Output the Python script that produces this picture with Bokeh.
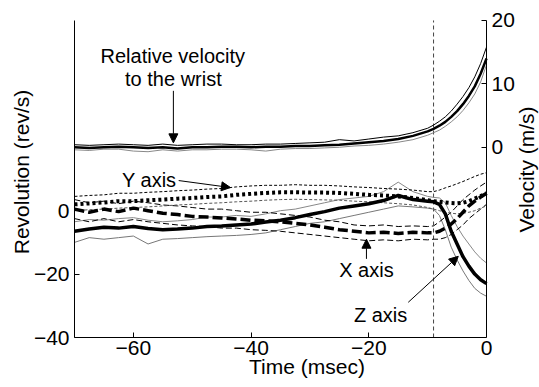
import math
from bokeh.plotting import figure
from bokeh.models import Range1d, LinearAxis, FixedTicker, Label, Arrow, NormalHead
from bokeh.embed import file_html
from bokeh.resources import INLINE

# ---- data ----
times = [-70, -67.5, -65, -62.5, -60, -57.5, -55, -52.5, -50, -47.5, -45, -42.5, -40,
         -37.5, -35, -32.5, -30, -27.5, -25, -22.5, -20, -17.5, -15, -12.5, -10,
         -9, -8, -7, -6, -5, -4, -3, -2, -1, 0]

# relative velocity to the wrist (m/s, right axis)
vel_mean = [0.0, -0.1, 0.0, 0.1, 0.0, -0.1, 0.0, -0.2, 0.0, 0.0, 0.1, 0.1, 0.0,
            0.1, 0.1, 0.2, 0.2, 0.3, 0.4, 0.6, 0.8, 1.0, 1.3, 1.8, 2.5,
            2.9, 3.4, 4.0, 4.8, 5.7, 6.8, 8.1, 9.6, 11.6, 14.0]
vel_upper = [0.4, 0.3, 0.4, 0.5, 0.4, 0.3, 0.5, 0.3, 0.4, 0.5, 0.5, 0.4, 0.4,
             0.5, 0.5, 0.6, 0.7, 0.8, 1.2, 1.0, 1.3, 1.6, 1.8, 2.3, 3.0,
             3.5, 4.1, 4.8, 5.7, 6.8, 8.0, 9.4, 11.1, 13.2, 15.8]
vel_lower = [-0.4, -0.5, -0.3, -0.3, -0.6, -0.7, -0.4, -0.6, -0.4, -0.4, -0.3, -0.3, -0.4,
             -0.6, -0.3, -0.2, -0.2, -0.1, 0.0, 0.2, 0.3, 0.5, 0.8, 1.2, 1.9,
             2.3, 2.7, 3.3, 4.0, 4.8, 5.8, 7.0, 8.4, 10.3, 13.0]

# Z axis revolution (rev/s, left axis)
z_mean = [-6.5, -5.8, -5.2, -5.5, -5.0, -5.6, -6.0, -5.8, -5.5, -5.0, -4.8, -4.5, -4.2,
          -3.6, -3.0, -2.2, -1.2, -0.3, 0.8, 1.5, 2.2, 3.2, 4.8, 3.5, 3.0,
          2.8, 2.0, -1.0, -6.5, -10.5, -14.5, -17.5, -20.0, -21.8, -23.0]
z_upper = [-3.5, -2.8, -3.0, -2.5, -2.2, -3.0, -3.5, -3.2, -2.8, -2.0, -2.0, -1.5, -1.8,
           -1.0, 0.0, 0.5, 1.5, 2.5, 3.5, 4.0, 4.5, 6.0, 9.0, 6.0, 4.5,
           4.2, 4.0, 2.5, -1.5, -5.0, -8.0, -10.5, -13.0, -15.0, -16.5]
z_lower = [-10.0, -8.5, -9.0, -8.5, -8.0, -10.5, -9.0, -8.8, -8.5, -8.2, -8.0, -7.8, -7.5,
           -7.0, -6.0, -5.0, -4.0, -3.5, -2.5, -1.5, -0.5, 0.5, 1.5, 1.2, 0.8,
           0.5, -1.5, -6.0, -11.5, -15.5, -19.0, -22.0, -24.5, -26.0, -27.0]

# X axis revolution (rev/s, left axis)
x_mean = [0.5, -0.5, 0.5, -0.3, 0.8, 0.0, -0.8, -1.2, -1.8, -2.0, -2.3, -2.6, -3.0,
          -3.2, -3.5, -4.0, -4.5, -5.2, -6.0, -6.5, -7.0, -6.8, -7.2, -6.8, -7.0,
          -7.0, -6.5, -5.5, -4.2, -2.5, -0.5, 1.5, 3.0, 4.3, 5.5]
x_upper = [3.5, 2.5, 3.0, 2.2, 3.0, 2.5, 1.8, 1.5, 1.0, 0.5, 0.5, 0.0, -0.5,
           -0.5, -1.0, -1.5, -2.0, -3.0, -3.5, -4.5, -4.8, -4.5, -5.0, -4.8, -5.0,
           -4.8, -3.5, -2.0, -0.5, 1.5, 3.5, 5.0, 6.5, 7.8, 9.0]
x_lower = [-2.5, -3.5, -2.5, -3.5, -2.8, -3.5, -4.0, -4.5, -4.8, -5.0, -5.5, -5.5, -6.0,
           -6.2, -6.5, -7.0, -7.5, -8.0, -8.5, -9.0, -9.5, -9.2, -9.5, -9.0, -9.2,
           -9.0, -9.0, -8.5, -7.5, -6.0, -4.5, -2.5, -1.0, 0.5, 2.0]

# Y axis revolution (rev/s, left axis)
y_mean = [2.0, 2.3, 2.6, 3.0, 3.0, 3.3, 3.5, 3.8, 4.0, 4.3, 4.5, 5.0, 5.3,
          5.6, 5.8, 5.8, 5.7, 5.7, 5.6, 5.3, 5.0, 4.8, 4.5, 4.0, 3.3,
          3.0, 2.8, 2.6, 2.4, 2.3, 2.5, 3.0, 3.8, 4.6, 5.5]
y_upper = [4.5, 4.8, 5.0, 5.5, 5.5, 5.8, 6.0, 6.3, 6.5, 6.8, 7.0, 7.5, 7.8,
           8.0, 8.0, 8.2, 8.0, 8.0, 7.8, 7.5, 7.3, 7.0, 6.8, 6.5, 6.0,
           6.0, 6.5, 7.2, 7.8, 8.5, 9.2, 10.0, 10.8, 11.5, 12.0]
y_lower = [0.0, 0.3, 0.5, 0.8, 1.0, 1.2, 1.5, 1.8, 2.0, 2.3, 2.5, 2.8, 3.0,
           3.3, 3.5, 3.6, 3.5, 3.4, 3.3, 3.0, 2.8, 2.5, 2.2, 1.8, 1.0,
           0.5, 0.0, -0.5, -0.8, -1.0, -0.8, -0.5, 0.0, 0.8, 1.5]

onset_time = -9
t_start, t_end = -70, 0
rev_min, rev_max = -40, 60
vel_min, vel_max = -30, 20

FONT = "Liberation Sans"

# The frame runs to the right edge and a little above the axes' tops; the axes
# are bounded to their data ranges and the velocity axis is pinned at t = 0.
p = figure(width=539, height=387, x_range=Range1d(t_start, 9.0),
           y_range=Range1d(rev_min, 64.4),
           output_backend="svg", toolbar_location=None,
           min_border_left=74, min_border_right=0, min_border_top=6, min_border_bottom=50)
p.extra_y_ranges = {"vel": Range1d(vel_min, 22.2)}
p.background_fill_color = "white"
p.border_fill_color = "white"
p.outline_line_color = None
p.xgrid.visible = False
p.ygrid.visible = False

def style_axis(ax):
    ax.axis_line_color = "black"
    ax.major_tick_in = 5
    ax.major_tick_out = 0
    ax.minor_tick_line_color = None
    ax.major_label_text_font = FONT
    ax.major_label_text_font_size = "21px"
    ax.major_label_text_color = "black"
    ax.axis_label_text_font = FONT
    ax.axis_label_text_font_size = "21px"
    ax.axis_label_text_font_style = "normal"
    ax.axis_label_text_color = "black"

style_axis(p.xaxis[0])
style_axis(p.yaxis[0])

p.xaxis[0].ticker = FixedTicker(ticks=[-60, -40, -20, 0])
p.xaxis[0].bounds = (t_start, t_end)
p.xaxis[0].axis_label = "Time (msec)"
p.xaxis[0].major_label_standoff = 3
p.xaxis[0].axis_label_standoff = -3

p.yaxis[0].ticker = FixedTicker(ticks=[-40, -20, 0])
p.yaxis[0].bounds = (rev_min, rev_max)
p.yaxis[0].axis_label = "Revolution (rev/s)"
p.yaxis[0].major_label_standoff = 5
p.yaxis[0].axis_label_standoff = -2

rax = LinearAxis(y_range_name="vel", ticker=FixedTicker(ticks=[0, 10, 20]),
                 fixed_location=t_end, bounds=(vel_min, vel_max))
style_axis(rax)
rax.major_label_standoff = 5
p.add_layout(rax, "right")

# onset line
p.segment(x0=[onset_time], y0=[rev_min], x1=[onset_time], y1=[rev_max],
          line_color="#444444", line_width=1, line_dash="4 3")

# velocity
p.line(times, vel_upper, y_range_name="vel", line_color="black", line_width=1)
p.line(times, vel_lower, y_range_name="vel", line_color="#888888", line_width=1)
p.line(times, vel_mean, y_range_name="vel", line_color="black", line_width=2.5)

# envelopes
p.line(times, z_upper, line_color="#888888", line_width=1)
p.line(times, z_lower, line_color="#777777", line_width=1)
p.line(times, x_upper, line_color="black", line_width=1, line_dash="6 3")
p.line(times, x_lower, line_color="black", line_width=1, line_dash="6 3")
p.line(times, y_upper, line_color="black", line_width=1, line_dash="3 2")
p.line(times, y_lower, line_color="#555555", line_width=1, line_dash="3 2")

# means
p.line(times, z_mean, line_color="black", line_width=3.5)
p.line(times, x_mean, line_color="black", line_width=3.5, line_dash="10 4")
p.line(times, y_mean, line_color="black", line_width=4, line_dash="3 3")

# annotations
def label(x, y, text, size="20px", angle=0.0):
    p.add_layout(Label(x=x, y=y, text=text, text_font=FONT, text_font_size=size,
                       text_color="black", text_align="center", text_baseline="middle",
                       angle=angle))

def arrow(x0, y0, x1, y1):
    p.add_layout(Arrow(x_start=x0, y_start=y0, x_end=x1, y_end=y1, line_width=1,
                       line_color="black",
                       end=NormalHead(size=9, fill_color="black", line_color="black")))

label(-53.3, 48.9, "Relative velocity")
label(-53.2, 41.6, "to the wrist")
arrow(-53.2, 37.8, -53.2, 21.4)

label(-57.3, 9.8, "Y axis")
arrow(-52.3, 9.5, -43.5, 7.3)

label(-20.4, -18.7, "X axis")
arrow(-20.4, -15.2, -20.4, -9.0)

label(-18.0, -33.0, "Z axis")
arrow(-13.3, -28.9, -4.8, -14.4)

# right axis title (reads bottom to top, as in the reference)
label(6.8, 13.0, "Velocity (m/s)", size="21px", angle=math.pi / 2)

open("out.html", "w").write(file_html(p, INLINE))
